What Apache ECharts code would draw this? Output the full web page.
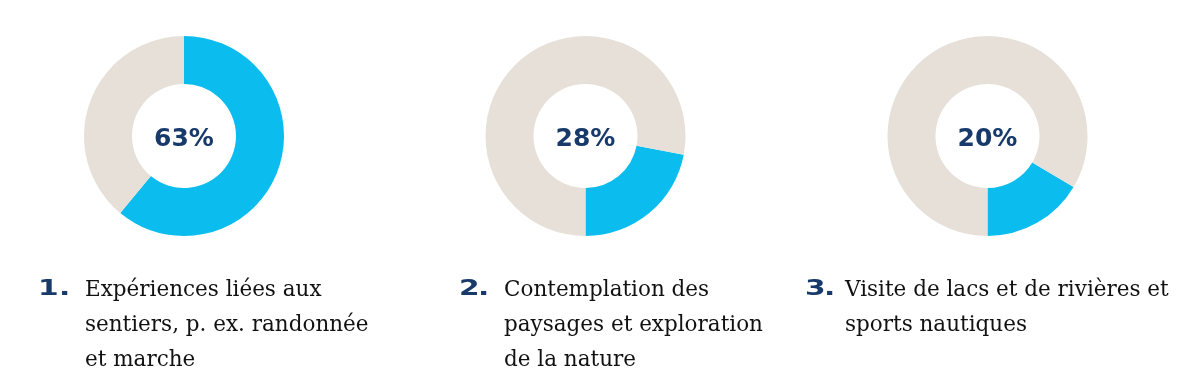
<!DOCTYPE html>
<html>
<head>
<meta charset="utf-8">
<script src="https://cdn.jsdelivr.net/npm/echarts@6/dist/echarts.min.js"></script>
<style>
  html, body { margin: 0; padding: 0; background: #fff; }
  #main { width: 1188px; height: 388px; }
</style>
</head>
<body>
<div id="main"></div>
<script>
// données
var pctLabels = [63, 28, 20];          // pourcentages affichés au centre
var arcShares = [61, 22, 16.5];        // part bleue telle que dessinée
var activities = [
    'Expériences liées aux\nsentiers, p. ex. randonnée\net marche',
    'Contemplation des\npaysages et exploration\nde la nature',
    'Visite de lacs et de rivières et\nsports nautiques'
];

var blue = '#0bbcee';
var sand = '#e6e0d9';
var navy = '#173a6b';

var centers = [[184, 136], [585.5, 136], [987.5, 136]];
// 1er anneau part du haut, les deux autres finissent en bas
var startAngles = [90, -90 + arcShares[1] * 3.6, -90 + arcShares[2] * 3.6];
var numX = [38, 459, 805];
var dotX = [59, 478, 824];
var textX = [85, 504, 845];

var myChart = echarts.init(document.getElementById('main'));

var series = [];
var graphics = [];
for (var i = 0; i < 3; i++) {
    series.push({
        type: 'pie',
        silent: true,
        center: centers[i],
        radius: [52, 100],
        startAngle: startAngles[i],
        clockwise: true,
        avoidLabelOverlap: false,
        labelLine: { show: false },
        emphasis: { disabled: true },
        data: [
            {
                value: arcShares[i],
                itemStyle: { color: blue },
                label: {
                    show: true,
                    position: 'center',
                    formatter: pctLabels[i] + '%',
                    fontFamily: 'DejaVu Sans',
                    fontWeight: 'bold',
                    fontSize: 25,
                    color: navy,
                    offset: [0, 3]
                }
            },
            {
                value: 100 - arcShares[i],
                itemStyle: { color: sand },
                label: { show: false }
            }
        ]
    });
    // numéro large et gras
    graphics.push({
        type: 'text',
        x: numX[i],
        y: 278,
        scaleX: 1.35,
        style: {
            text: String(i + 1),
            font: 'bold 22px "DejaVu Sans"',
            lineHeight: 22,
            fill: navy
        }
    });
    graphics.push({
        type: 'text',
        x: dotX[i],
        y: 278,
        scaleX: 1.35,
        style: {
            text: '.',
            font: 'bold 22px "DejaVu Sans"',
            lineHeight: 22,
            fill: navy
        }
    });
    graphics.push({
        type: 'text',
        x: textX[i],
        y: 273,
        style: {
            text: activities[i],
            font: '21.5px "DejaVu Serif"',
            lineHeight: 35,
            fill: '#111'
        }
    });
}

myChart.setOption({
    animation: false,
    series: series,
    graphic: graphics
});
</script>
</body>
</html>
